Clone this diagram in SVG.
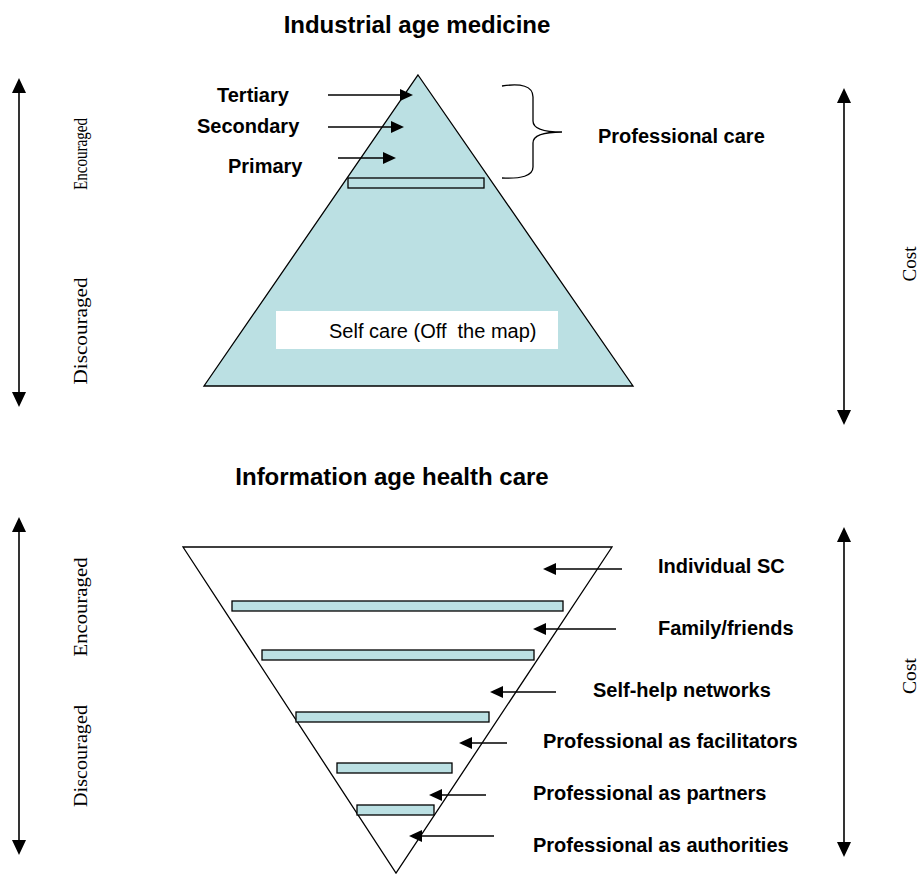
<svg xmlns="http://www.w3.org/2000/svg" width="921" height="875" viewBox="0 0 921 875">
<style>
.title{font-family:"Liberation Sans",Arial,sans-serif;font-weight:bold;font-size:24px;fill:#000;text-anchor:middle}
.lbl{font-family:"Liberation Sans",Arial,sans-serif;font-weight:bold;font-size:20px;fill:#000}
.rot{font-family:"Liberation Serif","Times New Roman",serif;font-size:19px;fill:#000;text-anchor:middle}
.plain{font-family:"Liberation Sans",Arial,sans-serif;font-size:20px;fill:#000;white-space:pre}
.shape{fill:#bbe0e3;stroke:#000;stroke-width:1.3}
.bar{fill:#bbe0e3;stroke:#000;stroke-width:1.3}
.conn{stroke:#000;stroke-width:1.3;fill:none}
.big{stroke:#000;stroke-width:1.6;fill:none}
</style>
<defs>
<marker id="ah" markerUnits="userSpaceOnUse" markerWidth="14" markerHeight="14" refX="0" refY="6" orient="auto" viewBox="0 0 14 12" overflow="visible">
<path d="M0,0 L13,6 L0,12 z" fill="#000"/>
</marker>
<marker id="bh" markerUnits="userSpaceOnUse" markerWidth="16" markerHeight="16" refX="0" refY="7" orient="auto-start-reverse" viewBox="0 0 16 14" overflow="visible">
<path d="M0,0 L15,7 L0,14 z" fill="#000"/>
</marker>
</defs>

<rect width="921" height="875" fill="#fff"/>

<text class="title" x="417" y="33">Industrial age medicine</text>
<text class="title" x="392" y="485">Information age health care</text>

<g id="pyramid">
<polygon class="shape" points="418,75 633,386 204,386"/>
<rect class="bar" x="348" y="178" width="136" height="10"/>
</g>

<g id="selfcare">
<rect x="276" y="311" width="282" height="38" fill="#fff"/>
<text class="plain" x="329" y="338">Self care (Off  the map)</text>
</g>

<g id="tertiary"><text class="lbl" x="217" y="102">Tertiary</text></g>
<g id="secondary"><text class="lbl" x="197" y="133">Secondary</text></g>
<g id="primary"><text class="lbl" x="228" y="173">Primary</text></g>
<g id="professional-care"><text class="lbl" x="598" y="143">Professional care</text></g>

<g id="inverted">
<polygon points="183,547 612,547 396,873" fill="#fff" stroke="#000" stroke-width="1.3"/>
<rect class="bar" x="232" y="601" width="331" height="10"/>
<rect class="bar" x="262" y="650" width="272" height="10"/>
<rect class="bar" x="296" y="712" width="193" height="10"/>
<rect class="bar" x="337" y="763" width="115" height="10"/>
<rect class="bar" x="357" y="805" width="77" height="10"/>
</g>

<g id="individual"><text class="lbl" x="658" y="573">Individual SC</text></g>
<g id="family"><text class="lbl" x="658" y="635">Family/friends</text></g>
<g id="selfhelp"><text class="lbl" x="593" y="697">Self-help networks</text></g>
<g id="facilitators"><text class="lbl" x="543" y="748">Professional as facilitators</text></g>
<g id="partners"><text class="lbl" x="533" y="800">Professional as partners</text></g>
<g id="authorities"><text class="lbl" x="533" y="852">Professional as authorities</text></g>

<g id="axis-labels">
<text class="rot" transform="translate(87,154) rotate(-90)" textLength="72" lengthAdjust="spacingAndGlyphs">Encouraged</text>
<text class="rot" transform="translate(87,331) rotate(-90)" textLength="107" lengthAdjust="spacingAndGlyphs">Discouraged</text>
<text class="rot" transform="translate(916,264) rotate(-90)" textLength="35" lengthAdjust="spacingAndGlyphs">Cost</text>
<text class="rot" transform="translate(87,607) rotate(-90)" textLength="99" lengthAdjust="spacingAndGlyphs">Encouraged</text>
<text class="rot" transform="translate(87,756) rotate(-90)" textLength="102" lengthAdjust="spacingAndGlyphs">Discouraged</text>
<text class="rot" transform="translate(916,676) rotate(-90)" textLength="36" lengthAdjust="spacingAndGlyphs">Cost</text>
</g>

<g id="connectors">
<line class="conn" x1="328" y1="95" x2="400" y2="95" marker-end="url(#ah)"/>
<line class="conn" x1="328" y1="127" x2="391" y2="127" marker-end="url(#ah)"/>
<line class="conn" x1="338" y1="158" x2="383" y2="158" marker-end="url(#ah)"/>
<path class="conn" d="M502,86 C521,83 533,86 533,97 L533,121 C533,129 544,132 562,132 C544,132 533,135 533,143 L533,167 C533,176 521,179 502,178"/>

<line class="conn" x1="622" y1="569" x2="556" y2="569" marker-end="url(#ah)"/>
<line class="conn" x1="616" y1="629" x2="546" y2="629" marker-end="url(#ah)"/>
<line class="conn" x1="556" y1="692" x2="503" y2="692" marker-end="url(#ah)"/>
<line class="conn" x1="507" y1="743" x2="472" y2="743" marker-end="url(#ah)"/>
<line class="conn" x1="486" y1="795" x2="442" y2="795" marker-end="url(#ah)"/>
<line class="conn" x1="494" y1="836" x2="422" y2="836" marker-end="url(#ah)"/>

<line class="big" x1="19" y1="93" x2="19" y2="392" marker-start="url(#bh)" marker-end="url(#bh)"/>
<line class="big" x1="844" y1="103" x2="844" y2="410" marker-start="url(#bh)" marker-end="url(#bh)"/>
<line class="big" x1="19" y1="532" x2="19" y2="840" marker-start="url(#bh)" marker-end="url(#bh)"/>
<line class="big" x1="844" y1="542" x2="844" y2="842" marker-start="url(#bh)" marker-end="url(#bh)"/>
</g>
</svg>
